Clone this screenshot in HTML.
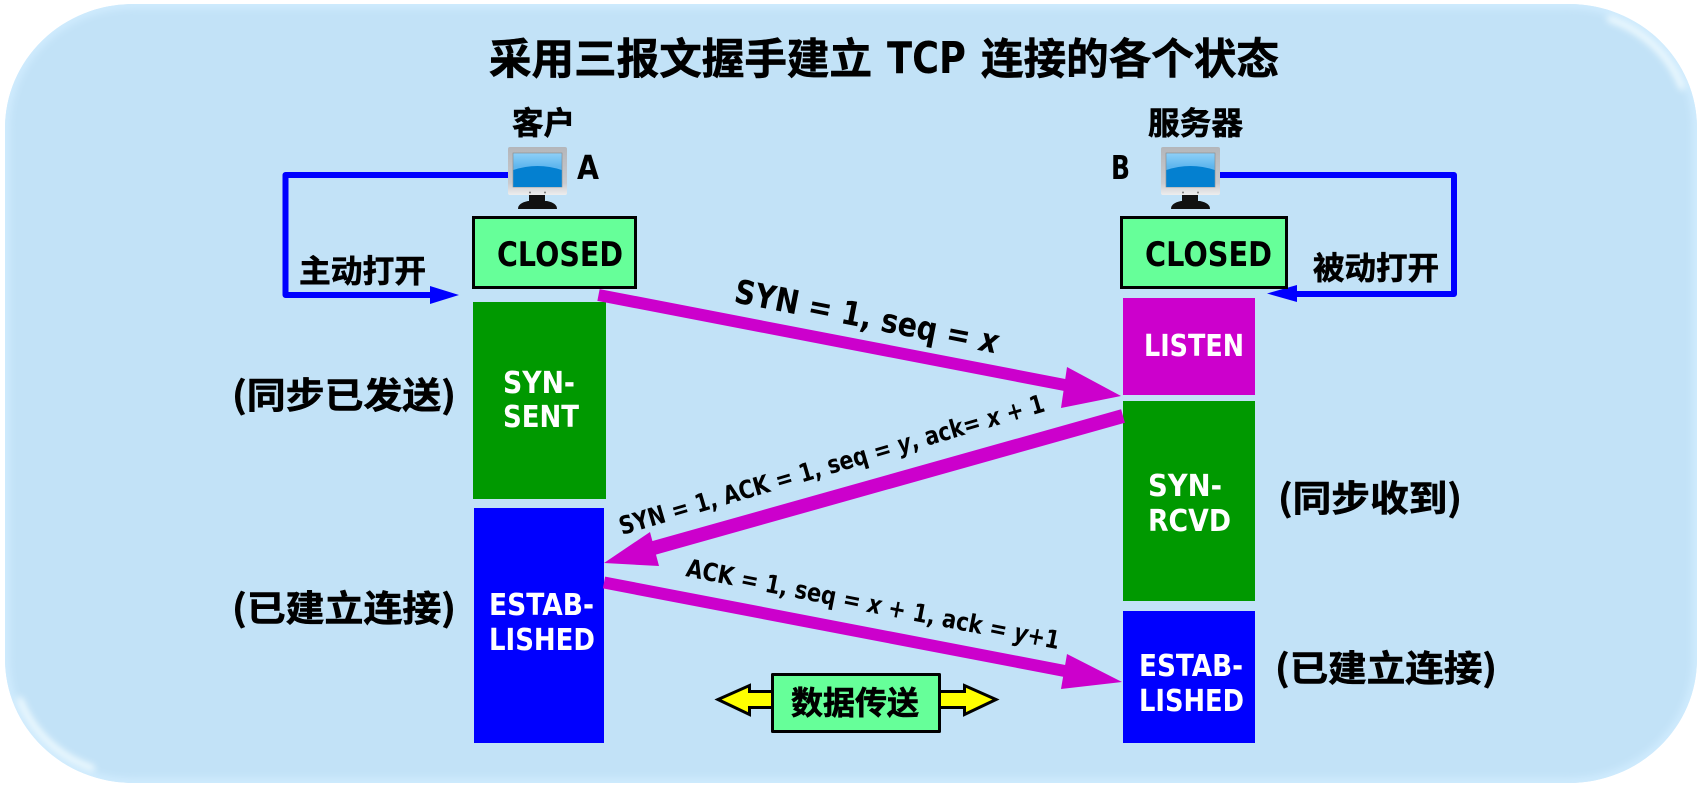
<!DOCTYPE html>
<html lang="zh-CN">
<head>
<meta charset="utf-8">
<title>采用三报文握手建立 TCP 连接的各个状态</title>
<style>
html,body{margin:0;padding:0;background:#fff;width:1704px;height:790px;overflow:hidden}
svg{display:block}
text{font-family:"DejaVu Sans","Noto Sans CJK SC",sans-serif;font-weight:700;fill:#000}
.cjk{font-family:"Noto Sans CJK SC","Liberation Sans",sans-serif;font-weight:700;stroke:#000;stroke-width:.6px}
.w{fill:#fff}
</style>
</head>
<body>
<svg width="1704" height="790" viewBox="0 0 1704 790" xmlns="http://www.w3.org/2000/svg">
<defs>
<filter id="b" x="-5%" y="-5%" width="110%" height="110%"><feGaussianBlur stdDeviation="4"/></filter>
<filter id="b2" x="-30%" y="-30%" width="160%" height="160%"><feGaussianBlur stdDeviation="3.500"/></filter>
<clipPath id="card"><rect x="5" y="4" width="1692" height="779" rx="128" ry="124"/></clipPath>
<linearGradient id="scr" x1="0" y1="0" x2="0" y2="1"><stop offset="0" stop-color="#8fd0f8"/><stop offset=".4" stop-color="#5fb6ee"/><stop offset="1" stop-color="#5fb6ee"/></linearGradient>
<linearGradient id="bez" x1="0" y1="0" x2="0" y2="1"><stop offset="0" stop-color="#b4b6ba"/><stop offset=".75" stop-color="#c8cace"/><stop offset="1" stop-color="#eeeeee"/></linearGradient>
<g id="mon">
<rect x="0" y="0" width="59" height="48" rx="2" fill="url(#bez)"/>
<rect x="5" y="6" width="49" height="34" fill="url(#scr)" stroke="#888" stroke-width=".6"/>
<path d="M5.300 23 Q29.500 15 53.700 23 V40 H5.300Z" fill="#0480d0"/>
<circle cx="22" cy="45.500" r="1" fill="#777"/><circle cx="37" cy="45.500" r="1" fill="#777"/>
<rect x="21" y="48" width="16" height="7" fill="#111"/>
<path d="M10 62 Q10 56 20 54 H39 Q49 56 49 62 Z" fill="#111"/>
</g>
</defs>

<rect x="5" y="4" width="1692" height="779" rx="128" ry="124" fill="#c2e2f7"/>
<g clip-path="url(#card)">
<rect x="5" y="4" width="1692" height="779" rx="128" ry="124" fill="none" stroke="#d2edff" stroke-width="8" filter="url(#b)"/>
<path d="M1610 19 A120 116 0 0 1 1682 87" fill="none" stroke="#f2fcff" stroke-width="6" stroke-linecap="round" filter="url(#b2)"/>
<path d="M20 700 A120 116 0 0 0 92 768" fill="none" stroke="#f2fcff" stroke-width="6" stroke-linecap="round" filter="url(#b2)"/>
</g>

<text class="cjk" x="489" y="74" font-size="42.600" textLength="383" lengthAdjust="spacingAndGlyphs">采用三报文握手建立</text>
<text x="887" y="73" font-size="44" textLength="79" lengthAdjust="spacingAndGlyphs">TCP</text>
<text class="cjk" x="981" y="74" font-size="42.600" textLength="298" lengthAdjust="spacingAndGlyphs">连接的各个状态</text>

<text class="cjk" x="512" y="134" font-size="31.500" textLength="63" lengthAdjust="spacingAndGlyphs">客户</text>
<text class="cjk" x="1148" y="134" font-size="31.500" textLength="95" lengthAdjust="spacingAndGlyphs">服务器</text>

<use href="#mon" x="508" y="147"/>
<use href="#mon" x="1161" y="147"/>
<text x="577" y="179" font-size="33" textLength="22" lengthAdjust="spacingAndGlyphs">A</text>
<text x="1111" y="179" font-size="33" textLength="19" lengthAdjust="spacingAndGlyphs">B</text>

<!-- blue open arrows -->
<path d="M508 175 H285.500 V295 H432" fill="none" stroke="#0000ff" stroke-width="6" stroke-linejoin="round"/>
<polygon points="430,286 459,295 430,304" fill="#0000ff"/>
<path d="M1220 175 H1454 V294 H1295" fill="none" stroke="#0000ff" stroke-width="6" stroke-linejoin="round"/>
<polygon points="1297,285 1267,293.500 1297,302" fill="#0000ff"/>
<text class="cjk" x="299" y="282" font-size="31.500" textLength="127" lengthAdjust="spacingAndGlyphs">主动打开</text>
<text class="cjk" x="1313" y="279" font-size="31.500" textLength="126" lengthAdjust="spacingAndGlyphs">被动打开</text>

<!-- state boxes -->
<rect x="473.500" y="217.500" width="162" height="70" fill="#66ff99" stroke="#000" stroke-width="3"/>
<rect x="1121.500" y="217.500" width="165" height="70" fill="#66ff99" stroke="#000" stroke-width="3"/>
<text x="497" y="266" font-size="34" textLength="126" lengthAdjust="spacingAndGlyphs">CLOSED</text>
<text x="1145" y="266" font-size="34" textLength="127" lengthAdjust="spacingAndGlyphs">CLOSED</text>

<rect x="473" y="302" width="133" height="197" fill="#009900"/>
<rect x="474" y="508" width="130" height="235" fill="#0000ff"/>
<rect x="1123" y="298" width="132" height="97" fill="#cc00cc"/>
<rect x="1123" y="401" width="132" height="200" fill="#009900"/>
<rect x="1123" y="611" width="132" height="132" fill="#0000ff"/>

<text class="w" x="503" y="393" font-size="30" textLength="72" lengthAdjust="spacingAndGlyphs">SYN-</text>
<text class="w" x="503" y="427" font-size="30" textLength="76" lengthAdjust="spacingAndGlyphs">SENT</text>
<text class="w" x="489" y="615" font-size="30" textLength="105" lengthAdjust="spacingAndGlyphs">ESTAB-</text>
<text class="w" x="489" y="650" font-size="30" textLength="106" lengthAdjust="spacingAndGlyphs">LISHED</text>
<text class="w" x="1144" y="356" font-size="30" textLength="100" lengthAdjust="spacingAndGlyphs">LISTEN</text>
<text class="w" x="1148" y="496" font-size="30" textLength="74" lengthAdjust="spacingAndGlyphs">SYN-</text>
<text class="w" x="1148" y="531" font-size="30" textLength="83" lengthAdjust="spacingAndGlyphs">RCVD</text>
<text class="w" x="1139" y="676" font-size="30" textLength="104" lengthAdjust="spacingAndGlyphs">ESTAB-</text>
<text class="w" x="1139" y="711" font-size="30" textLength="105" lengthAdjust="spacingAndGlyphs">LISHED</text>

<text class="cjk" x="232" y="408" font-size="36" textLength="224" lengthAdjust="spacingAndGlyphs">(同步已发送)</text>
<text class="cjk" x="232" y="621" font-size="36" textLength="224" lengthAdjust="spacingAndGlyphs">(已建立连接)</text>
<text class="cjk" x="1278" y="511" font-size="36" textLength="184" lengthAdjust="spacingAndGlyphs">(同步收到)</text>
<text class="cjk" x="1275" y="681" font-size="36" textLength="222" lengthAdjust="spacingAndGlyphs">(已建立连接)</text>

<!-- magenta arrows -->
<line x1="598.500" y1="295" x2="1070" y2="386" stroke="#cc00cc" stroke-width="12"/>
<polygon points="1121,396 1067,367 1061,408" fill="#cc00cc"/>
<line x1="1123" y1="416" x2="650" y2="549" stroke="#cc00cc" stroke-width="14"/>
<polygon points="604,563 650,532 659,566" fill="#cc00cc"/>
<line x1="604" y1="582.500" x2="1070" y2="672" stroke="#cc00cc" stroke-width="12"/>
<polygon points="1122,682 1067,654 1061,689" fill="#cc00cc"/>

<!-- rotated labels -->
<text transform="translate(733 302) rotate(11.100)" font-size="33" textLength="268" lengthAdjust="spacingAndGlyphs">SYN = 1, seq = <tspan font-style="italic">x</tspan></text>
<text transform="translate(622 535) rotate(-16.300)" font-size="25" textLength="442" lengthAdjust="spacingAndGlyphs">SYN = 1, ACK = 1, seq = <tspan font-style="italic">y</tspan>, ack= <tspan font-style="italic">x</tspan> + 1</text>
<text transform="translate(685 576) rotate(11.100)" font-size="25" textLength="380" lengthAdjust="spacingAndGlyphs">ACK = 1, seq = <tspan font-style="italic">x</tspan> + 1, ack = <tspan font-style="italic">y</tspan>+1</text>

<!-- data transfer -->
<polygon points="718,699.500 749.500,685.500 749.500,691.500 780,691.500 780,707.500 749.500,707.500 749.500,714.500" fill="#ffff00" stroke="#000" stroke-width="3"/>
<polygon points="996,699.500 964.500,685.500 964.500,691.500 930,691.500 930,707.500 964.500,707.500 964.500,714.500" fill="#ffff00" stroke="#000" stroke-width="3"/>
<rect x="772.500" y="674.500" width="167" height="57" fill="#66ff99" stroke="#000" stroke-width="3" stroke-linejoin="round"/>
<text class="cjk" x="791" y="714" font-size="32" textLength="128" lengthAdjust="spacingAndGlyphs">数据传送</text>
</svg>
</body>
</html>
